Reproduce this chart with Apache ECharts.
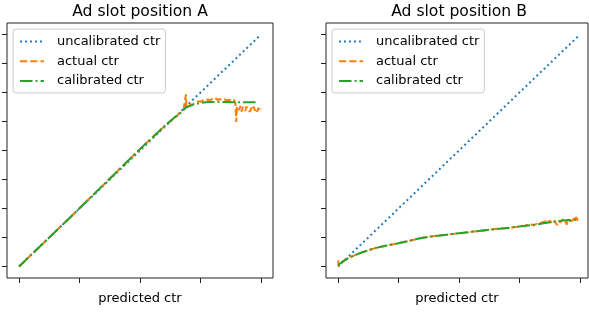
<!DOCTYPE html>
<html>
<head>
<meta charset="utf-8">
<script src="https://cdn.jsdelivr.net/npm/echarts@6/dist/echarts.min.js"></script>
<style>
  html, body { margin: 0; padding: 0; background: #fff; }
  #chart { width: 589px; height: 314px; }
</style>
</head>
<body>
<div id="chart"></div>
<script>
// tick positions (labels are hidden in the original)
const xTicks = [0, 0.25, 0.5, 0.75, 1];
const yTicks = [0, 0.125, 0.25, 0.375, 0.5, 0.625, 0.75, 0.875, 1];
const names = ["uncalibrated ctr", "actual ctr", "calibrated ctr"];
const titles = ["Ad slot position A", "Ad slot position B"];

// uncalibrated = diagonal in both panels
const diagX = [0, 1];
const diagY = [0, 1];

// slot A
const actualAx = [0, 0.1, 0.2, 0.3, 0.4, 0.5, 0.6, 0.65, 0.68, 0.688, 0.69, 0.692, 0.7, 0.71, 0.72, 0.73, 0.74, 0.75, 0.76, 0.77, 0.78, 0.79, 0.8, 0.805, 0.81, 0.82, 0.83, 0.84, 0.85, 0.86, 0.87, 0.88, 0.89, 0.895, 0.898, 0.901, 0.91, 0.915, 0.92, 0.925, 0.93, 0.935, 0.94, 0.945, 0.95, 0.955, 0.96, 0.965, 0.97, 0.975, 0.98, 0.985, 0.99, 0.995, 1.0];
const actualAy = [0, 0.1, 0.2, 0.302, 0.404, 0.506, 0.604, 0.647, 0.676, 0.684, 0.742, 0.686, 0.692, 0.698, 0.700, 0.706, 0.712, 0.710, 0.716, 0.713, 0.720, 0.716, 0.724, 0.716, 0.728, 0.718, 0.722, 0.716, 0.721, 0.715, 0.719, 0.713, 0.718, 0.700, 0.623, 0.690, 0.675, 0.692, 0.668, 0.688, 0.680, 0.670, 0.690, 0.676, 0.684, 0.667, 0.684, 0.675, 0.690, 0.672, 0.681, 0.668, 0.684, 0.670, 0.678];
const calibAx = [0, 0.1, 0.2, 0.3, 0.4, 0.5, 0.6, 0.64, 0.665, 0.69, 0.72, 0.747, 0.77, 0.79, 0.85, 0.93, 0.98];
const calibAy = [0, 0.1, 0.2, 0.302, 0.404, 0.506, 0.604, 0.64, 0.659, 0.685, 0.698, 0.705, 0.708, 0.709, 0.709, 0.708, 0.708];

// slot B
const actualBx = [0, 0.003, 0.01, 0.02, 0.05, 0.1, 0.15, 0.2, 0.25, 0.3, 0.35, 0.4, 0.45, 0.5, 0.55, 0.6, 0.65, 0.7, 0.72, 0.74, 0.76, 0.77, 0.78, 0.79, 0.8, 0.81, 0.82, 0.83, 0.84, 0.845, 0.85, 0.855, 0.86, 0.865, 0.87, 0.875, 0.88, 0.885, 0.89, 0.895, 0.9, 0.905, 0.91, 0.915, 0.92, 0.925, 0.93, 0.935, 0.94, 0.945, 0.95, 0.955, 0.96, 0.965, 0.97, 0.975, 0.98, 0.985, 0.99, 0.995, 1.0];
const actualBy = [0.026, 0, 0.012, 0.022, 0.04, 0.061, 0.078, 0.09, 0.1, 0.112, 0.124, 0.131, 0.137, 0.143, 0.149, 0.155, 0.161, 0.166, 0.168, 0.171, 0.176, 0.172, 0.179, 0.176, 0.181, 0.177, 0.184, 0.180, 0.189, 0.183, 0.192, 0.185, 0.195, 0.186, 0.193, 0.198, 0.188, 0.197, 0.191, 0.200, 0.188, 0.178, 0.196, 0.203, 0.190, 0.200, 0.195, 0.205, 0.193, 0.180, 0.200, 0.206, 0.194, 0.202, 0.198, 0.208, 0.196, 0.213, 0.200, 0.205, 0.198];
const calibBx = [0, 0.02, 0.05, 0.1, 0.15, 0.2, 0.25, 0.3, 0.35, 0.4, 0.45, 0.5, 0.55, 0.6, 0.65, 0.7, 0.75, 0.8, 0.85, 0.9, 0.95, 0.99];
const calibBy = [0.005, 0.022, 0.04, 0.061, 0.078, 0.09, 0.1, 0.112, 0.124, 0.131, 0.137, 0.143, 0.149, 0.155, 0.161, 0.166, 0.172, 0.178, 0.186, 0.194, 0.2, 0.202];

const font = "DejaVu Sans";
const colors = ["#1f77b4", "#ff7f0e", "#2ca02c"];
const dashes = [[1.9, 3.1], [7.2, 3.1], [12.5, 3.1, 1.9, 3.1]];

const pairs = (xs, ys) => xs.map((x, i) => [x, ys[i]]);
const panels = [
  [pairs(diagX, diagY), pairs(actualAx, actualAy), pairs(calibAx, calibAy)],
  [pairs(diagX, diagY), pairs(actualBx, actualBy), pairs(calibBx, calibBy)]
];
// second panel is cut off at the right edge of the picture
const gridLeft = [7, 326];
const gridWidth = [266, 262];
const xMax = [1.05, 1.0335];

let chart = echarts.init(document.getElementById("chart"));

let option = {
  animation: false,
  backgroundColor: "#fff",
  title: titles.map((t, i) => ({
    text: t,
    left: gridLeft[i] + 133,
    top: 4,
    padding: 0,
    textAlign: "center",
    textStyle: { fontFamily: font, fontSize: 15.6, fontWeight: "normal", color: "#000" }
  })),
  legend: gridLeft.map((l) => ({
    data: names,
    orient: "vertical",
    left: l + 6,
    top: 29,
    itemWidth: 24,
    itemHeight: 14,
    itemGap: 3.7,
    padding: [4.5, 5, 4, 6],
    borderColor: "#cccccc",
    borderWidth: 1,
    borderRadius: 3,
    backgroundColor: "rgba(255,255,255,0.8)",
    itemStyle: { opacity: 0 },
    textStyle: { fontFamily: font, fontSize: 13, color: "#000", padding: [0, 0, 0, 8], lineHeight: 16 }
  })),
  grid: gridLeft.map((l, i) => ({
    left: l,
    top: 23,
    width: gridWidth[i],
    height: 255,
    show: true,
    borderColor: "#222",
    borderWidth: 1
  })),
  xAxis: gridLeft.map((l, i) => ({
    type: "value",
    gridIndex: i,
    min: -0.05,
    max: xMax[i],
    axisLine: { show: false, onZero: false },
    axisTick: { show: true, length: 5, customValues: xTicks, lineStyle: { color: "#222" } },
    axisLabel: { show: false },
    splitLine: { show: false },
    name: "predicted ctr",
    nameLocation: "middle",
    nameGap: 14,
    nameTextStyle: { fontFamily: font, fontSize: 13, color: "#000" }
  })),
  yAxis: gridLeft.map((l, i) => ({
    type: "value",
    gridIndex: i,
    min: -0.05,
    max: 1.05,
    axisLine: { show: false, onZero: false },
    axisTick: { show: true, length: 5, customValues: yTicks, lineStyle: { color: "#222" } },
    axisLabel: { show: false },
    splitLine: { show: false }
  })),
  series: []
};

panels.forEach((panel, p) => {
  panel.forEach((data, k) => {
    option.series.push({
      name: names[k],
      type: "line",
      xAxisIndex: p,
      yAxisIndex: p,
      data: data,
      symbol: "none",
      color: colors[k],
      lineStyle: { color: colors[k], width: 2, type: dashes[k] }
    });
  });
});

chart.setOption(option);
</script>
</body>
</html>
